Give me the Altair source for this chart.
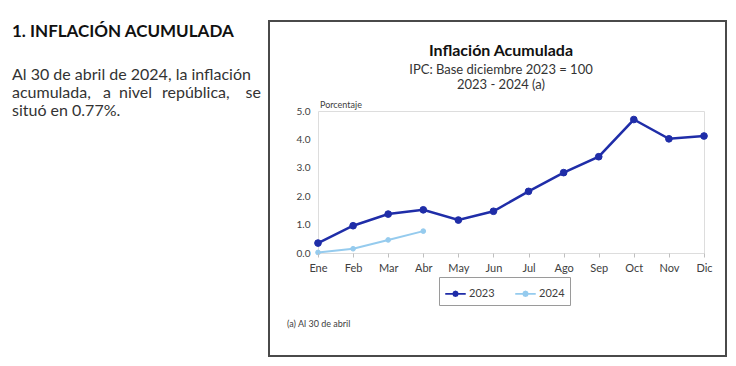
import altair as alt
import pandas as pd

months = ["Ene", "Feb", "Mar", "Abr", "May", "Jun", "Jul", "Ago", "Sep", "Oct", "Nov", "Dic"]
vals_2023 = [0.35, 0.96, 1.37, 1.52, 1.16, 1.47, 2.17, 2.83, 3.39, 4.70, 4.02, 4.12]
vals_2024 = [0.02, 0.15, 0.46, 0.77]
years = ["2023", "2024"]
y_ticks = [0, 1, 2, 3, 4, 5]

rows = [{"mes": m, "valor": v, "anio": "2023"} for m, v in zip(months, vals_2023)]
rows += [{"mes": m, "valor": v, "anio": "2024"} for m, v in zip(months, vals_2024)]
df = pd.DataFrame(rows)

DARK = "#1F2DA8"
LIGHT = "#95CBEE"
FONT = "Lato"

x_enc = alt.X("mes:N", sort=months, scale=alt.Scale(type="point", padding=0), title=None,
              axis=alt.Axis(labelAngle=0, domain=False, ticks=True, tickSize=4, tickColor="#bfbfbf",
                            labelFontSize=11, labelColor="#404040", labelPadding=5, labelFont=FONT,
                            zindex=1))
y_enc = alt.Y("valor:Q", scale=alt.Scale(domain=[0, 5], nice=False), title=None,
              axis=alt.Axis(values=y_ticks, format=".1f", grid=False, domain=False, ticks=False,
                            labelPadding=8, labelFontSize=10, labelColor="#404040", labelFont=FONT,
                            zindex=1))
col_scale = alt.Scale(domain=years, range=[DARK, LIGHT])
leg = alt.Legend(orient="none", legendX=121, legendY=166, direction="horizontal",
                 strokeColor="#9a9a9a", padding=5, labelFontSize=11,
                 labelFont=FONT, labelColor="#404040", columnPadding=16,
                 symbolType="M-1,0L1,0M0.22,0L0.16,0.16L0,0.22L-0.16,0.16L-0.22,0L-0.16,-0.16L0,-0.22L0.16,-0.16Z",
                 symbolSize=420, symbolStrokeWidth=1.8, labelOffset=2, title=None)


def series(year, color, width, size):
    base = alt.Chart(df).transform_filter(alt.datum.anio == year)
    line = base.mark_line(color=color, strokeWidth=width).encode(x=x_enc, y=y_enc)
    pts = base.mark_point(filled=True, opacity=1, size=size, strokeWidth=1).encode(
        x=x_enc, y=y_enc,
        fill=alt.Fill("anio:N", scale=col_scale, legend=leg),
        stroke=alt.Stroke("anio:N", scale=col_scale, legend=leg),
    )
    return [line, pts]


one = pd.DataFrame({"k": [0]})


def txt(s, x, y, size, weight="normal", align="left", color="#333333"):
    return alt.Chart(one).mark_text(align=align, baseline="middle", font=FONT, fontSize=size,
                                    fontWeight=weight, color=color).encode(
        x=alt.value(x), y=alt.value(y), text=alt.value(s))


box = alt.Chart(one).mark_rect(fillOpacity=0, stroke="#4a4a4a", strokeWidth=2).encode(
    x=alt.value(-49), x2=alt.value(408), y=alt.value(-90), y2=alt.value(245))

texts = [
    txt("1.   INFLACIÓN ACUMULADA", -306, -79, 17, "bold", color="#111111"),
    txt("Al 30 de abril de 2024, la inflación", -306, -36, 16),
    txt("acumulada,", -306, -18, 16),
    txt("a", -215, -18, 16),
    txt("nivel", -199, -18, 16),
    txt("república,", -156, -18, 16),
    txt("se", -57, -18, 16, align="right"),
    txt("situó en 0.77%.", -306, 0, 16),
    txt("Inflación Acumulada", 183, -60, 16, "bold", "center", "#111111"),
    txt("IPC: Base diciembre 2023 = 100", 183, -41, 13, "normal", "center", "#333333"),
    txt("2023 - 2024 (a)", 183, -26, 13, "normal", "center", "#333333"),
    txt("Porcentaje", 2, -6, 9, "normal", "left", "#404040"),
    txt("(a) Al 30 de abril", -31, 213, 9, "normal", "left", "#404040"),
]

layers = [box, *texts] + series("2024", LIGHT, 2, 22) + series("2023", DARK, 2.5, 45)

chart = alt.layer(*layers).properties(
    width=386, height=142,
    autosize=alt.AutoSizeParams(type="none"),
    padding={"left": 310, "top": 103, "right": 24, "bottom": 105},
).configure_view(stroke="#bfbfbf", strokeWidth=1.5).configure(background="white")

chart.save("out.html", embed_options={"renderer": "svg", "actions": False})
